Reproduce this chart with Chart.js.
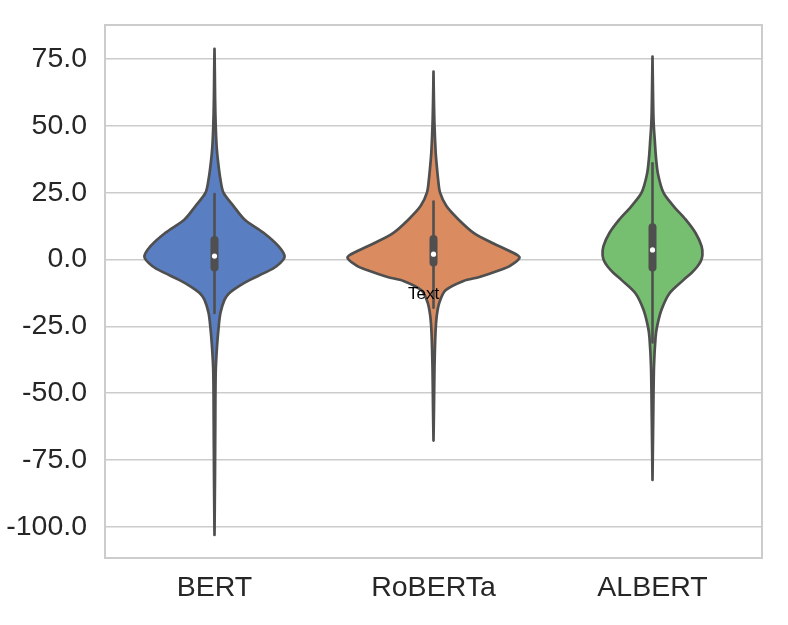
<!DOCTYPE html>
<html>
<head>
<meta charset="utf-8">
<script src="https://cdn.jsdelivr.net/npm/chart.js@4.4.0/dist/chart.umd.min.js"></script>
<style>
  html, body { margin: 0; padding: 0; background: #ffffff; }
  #wrap { width: 788px; height: 625px; }
</style>
</head>
<body>
<div id="wrap"><canvas id="c" width="788" height="625"></canvas></div>
<script>
// ---- data ----
const categories = ['BERT', 'RoBERTa', 'ALBERT'];
const yTickValues = [-100, -75, -50, -25, 0, 25, 50, 75];

// violin outlines: value levels and half-widths (in category units)
const bertLevels   = [78.8, 70, 60, 50, 42, 36, 30, 25, 20, 15, 10, 5, 1, -2.5, -5, -7.5, -10, -12.5, -15, -20, -26, -33, -42, -60, -80, -103];
const bertWidths   = [0, .0014, .0027, .0055, .010, .017, .027, .041, .087, .137, .224, .292, .320, .283, .228, .164, .110, .068, .046, .027, .018, .011, .0055, .0037, .0023, 0];
const robertaLevels = [70.3, 60, 50, 40, 35, 30, 25, 20, 15, 10, 6, 3, 0.7, -2.5, -4, -6.5, -8, -11.5, -16, -21, -27.5, -40, -55, -67.7];
const robertaWidths = [0, .0018, .0046, .010, .015, .021, .030, .059, .114, .183, .274, .352, .393, .347, .301, .210, .137, .055, .027, .015, .009, .0046, .0023, 0];
const albertLevels = [75.9, 65, 55, 50, 45, 38, 32, 25, 20, 15, 10, 5, 1.7, -0.5, -2.6, -5, -7.6, -12.6, -18.8, -25, -29, -40, -60, -82.4];
const albertWidths = [0, .0018, .0037, .0059, .010, .016, .025, .050, .096, .151, .196, .224, .228, .221, .205, .178, .142, .078, .041, .021, .014, .0068, .0032, 0];

// inner box statistics
const whiskerLow  = [-20, -18, -31];
const whiskerHigh = [24.5, 21.7, 36.0];
const quartile1   = [-3.0, -1.1, -3.0];
const quartile3   = [7.3, 7.7, 12.1];
const medians     = [1.3, 2.0, 3.6];

// annotation
const noteTexts = ['Text'];
const noteX = [0.955];
const noteY = [-13];

// ---- styling ----
const fillColors = ['#5a7ec2', '#da8b5f', '#76bf71'];
const gray = '#4f4f4f';
const gridColor = '#cccccc';
const fontFamily = '"Liberation Sans", Arial, Helvetica, sans-serif';

const violinLevels = [bertLevels, robertaLevels, albertLevels];
const violinWidths = [bertWidths, robertaWidths, albertWidths];

function violinPoints(i) {
  const lv = violinLevels[i], w = violinWidths[i];
  const pts = [];
  for (let k = 0; k < lv.length; k++) pts.push({x: i + w[k], y: lv[k]});
  for (let k = lv.length - 1; k >= 0; k--) pts.push({x: i - w[k], y: lv[k]});
  return pts;
}

const datasets = [];
categories.forEach((name, i) => {
  datasets.push({
    type: 'line', label: name, data: violinPoints(i), order: 10,
    fill: 'shape', backgroundColor: fillColors[i], borderColor: gray,
    borderWidth: 2.7, tension: 0.3, pointRadius: 0,
    borderJoinStyle: 'round', borderCapStyle: 'round'
  });
  datasets.push({
    type: 'line', label: name + ' whisker', order: 5,
    data: [{x: i, y: whiskerLow[i]}, {x: i, y: whiskerHigh[i]}],
    borderColor: gray, borderWidth: 2.6, pointRadius: 0, fill: false,
    borderCapStyle: 'round'
  });
  datasets.push({
    type: 'line', label: name + ' box', order: 3,
    data: [{x: i, y: quartile1[i]}, {x: i, y: quartile3[i]}],
    borderColor: gray, borderWidth: 8, pointRadius: 0, fill: false,
    borderCapStyle: 'round'
  });
  datasets.push({
    type: 'line', label: name + ' median', order: 1,
    data: [{x: i, y: medians[i]}],
    showLine: false, pointRadius: 2.6, pointBorderWidth: 0,
    pointBackgroundColor: '#ffffff', fill: false
  });
});

const framePlugin = {
  id: 'frame',
  beforeDatasetsDraw(chart) {
    const {ctx, chartArea: a} = chart;
    ctx.save();
    ctx.strokeStyle = gridColor;
    ctx.lineWidth = 2;
    ctx.strokeRect(a.left, a.top, a.right - a.left, a.bottom - a.top);
    ctx.restore();
  }
};

const notePlugin = {
  id: 'notes',
  afterDatasetsDraw(chart) {
    const {ctx} = chart;
    const xs = chart.scales.x, ys = chart.scales.y;
    ctx.save();
    ctx.fillStyle = '#000000';
    ctx.font = '17px ' + fontFamily;
    ctx.textAlign = 'center';
    ctx.textBaseline = 'middle';
    noteTexts.forEach((t, k) => {
      ctx.fillText(t, xs.getPixelForValue(noteX[k]), ys.getPixelForValue(noteY[k]));
    });
    ctx.restore();
  }
};

new Chart(document.getElementById('c'), {
  type: 'line',
  data: { datasets },
  plugins: [framePlugin, notePlugin],
  options: {
    responsive: false,
    animation: false,
    devicePixelRatio: 1,
    layout: { padding: { left: 0, right: 26, top: 25, bottom: 0 } },
    plugins: { legend: { display: false }, tooltip: { enabled: false } },
    scales: {
      x: {
        type: 'linear', min: -0.5, max: 2.5,
        afterBuildTicks: s => { s.ticks = categories.map((c, i) => ({value: i})); },
        afterFit: s => { s.height = 67; s.paddingLeft = 0; s.paddingRight = 0; },
        grid: { display: false, drawTicks: false },
        border: { display: false },
        ticks: {
          callback: v => categories[v],
          color: '#262626', padding: 13, maxRotation: 0, autoSkip: false,
          font: { family: fontFamily, size: 28.5 }
        }
      },
      y: {
        type: 'linear', min: -111.6, max: 87.7,
        afterBuildTicks: s => { s.ticks = yTickValues.map(v => ({value: v})); },
        afterFit: s => { s.width = 105; s.paddingTop = 0; s.paddingBottom = 0; },
        grid: { color: gridColor, lineWidth: 1.6, drawTicks: false },
        border: { display: false },
        ticks: {
          callback: v => Number(v).toFixed(1),
          color: '#262626', padding: 18, autoSkip: false,
          font: { family: fontFamily, size: 28.5 }
        }
      }
    }
  }
});
</script>
</body>
</html>
